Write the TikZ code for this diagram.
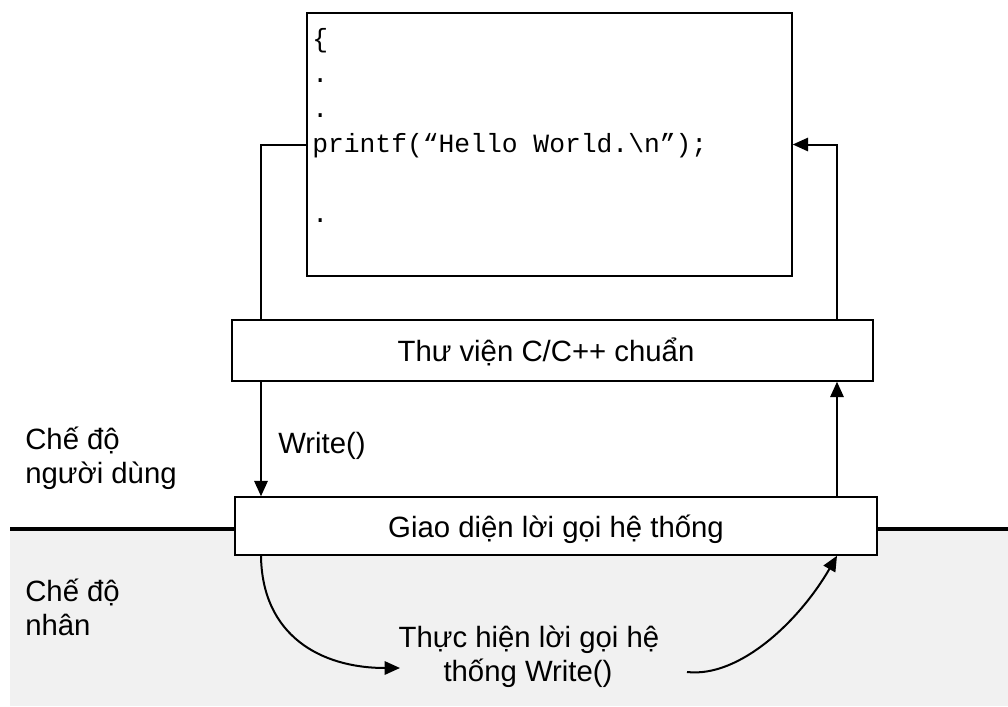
\documentclass[tikz,border=0pt]{standalone}
\usepackage{fontspec}
\setmainfont{Liberation Sans}
\newfontfamily\codefont{Liberation Mono}
\usetikzlibrary{arrows.meta}
\definecolor{kgrey}{HTML}{F1F1F1}
\begin{document}
\begin{tikzpicture}[x=0.75pt,y=-0.75pt,
  box/.style={draw=black, fill=white, line width=1.1pt, inner sep=0pt},
  conn/.style={line width=1.5pt},
  arr/.style={-{Triangle[length=11.5pt,width=10pt]}},
  lbl/.style={font=\fontsize{22}{26}\selectfont, inner sep=0pt},
  codetxt/.style={font=\codefont\fontsize{19.75}{22}\selectfont, inner sep=0pt, anchor=base west}]
\useasboundingbox (0,0) rectangle (1008,707);
% kernel mode region and separating line
\fill[kgrey] (10,530) rectangle (1008,706);
\draw[line width=3pt] (10,529) -- (1008,529);
% boxes
\node[box, minimum width=363.75pt, minimum height=197.25pt] (code) at (549.5,144.5) {};
\node[box, minimum width=480.75pt, minimum height=45.75pt] (lib) at (552.5,350.5) {};
\node[box, minimum width=481.5pt, minimum height=43.5pt] (giao) at (556,526) {};
% code text
\node[codetxt] (c1) at (312,47) {\{};
\node[codetxt] (c2) at (312,82) {.};
\node[codetxt] (c3) at (312,117) {.};
\node[codetxt] (c4) at (312,152) {printf(“Hello World.\textbackslash n”);};
\node[codetxt] (c5) at (312,222) {.};
% box labels
\node[lbl, anchor=base] (libtxt) at (546,361) {Thư viện C/C++ chuẩn};
\node[lbl, anchor=base] (giaotxt) at (556,537) {Giao diện lời gọi hệ thống};
% side labels
\node[lbl, anchor=base west] (u1) at (25,449) {Chế độ};
\node[lbl, anchor=base west] (u2) at (25,483) {người dùng};
\node[lbl, anchor=base west] (k1) at (25,601) {Chế độ};
\node[lbl, anchor=base west] (k2) at (25,635) {nhân};
\node[lbl, anchor=base west] (wr) at (278,453) {Write()};
\node[lbl, anchor=base] (e1) at (529,647) {Thực hiện lời gọi hệ};
\node[lbl, anchor=base] (e2) at (528,681) {thống Write()};
% helper coordinates
\coordinate (lx) at (261,0);
\coordinate (rx) at (837,0);
\coordinate (ein) at (400,668);
\coordinate (eout) at (687,672);
% connectors
\draw[conn] (code.west) -| (lib.north -| lx);
\draw[conn,arr] (lib.south -| lx) -- (giao.north -| lx);
\draw[conn,arr] (giao.north -| rx) -- (lib.south -| rx);
\draw[conn,arr] (lib.north -| rx) |- (code.east);
\draw[conn,arr] (giao.south -| lx) .. controls (262,635) and (320,668) .. (ein);
\draw[conn,arr] (eout) .. controls (740,678) and (800,620) .. (giao.south -| rx);
\end{tikzpicture}
\end{document}
